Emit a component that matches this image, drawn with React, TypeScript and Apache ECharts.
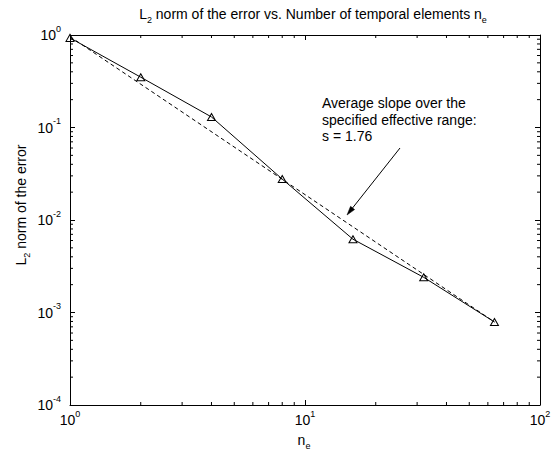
import React, { useEffect, useRef } from 'react';
import * as echarts from 'echarts';

// ---- data ----
const elements = [1, 2, 4, 8, 16, 32, 64];
const l2Error = [0.93, 0.35, 0.13, 0.0277, 0.0062, 0.0024, 0.00079];
const fitElements = [1, 64];
const fitError = [0.96, 0.00079];
const xMinorTicks = [2, 3, 4, 5, 6, 7, 8, 9, 20, 30, 40, 50, 60, 70, 80, 90];
const yMinorTicks = [
  0.0002, 0.0003, 0.0004, 0.0005, 0.0006, 0.0007, 0.0008, 0.0009,
  0.002, 0.003, 0.004, 0.005, 0.006, 0.007, 0.008, 0.009,
  0.02, 0.03, 0.04, 0.05, 0.06, 0.07, 0.08, 0.09,
  0.2, 0.3, 0.4, 0.5, 0.6, 0.7, 0.8, 0.9,
];
const titleText = '{b|L}{sub|2}{b| norm of the error vs. Number of temporal elements n}{sub|e}';
const xNameText = '{b|n}{sub|e}';
const yNameText = '{b|L}{sub|2}{b| norm of the error}';
const annotationLines = ['Average slope over the', 'specified effective range:', 's = 1.76'];

const FONT = '"Liberation Sans", Arial, Helvetica, sans-serif';

const gRich = {
  b: { fontSize: 14, lineHeight: 20, fontFamily: FONT, fill: '#000' },
  sub: { fontSize: 9, lineHeight: 9, verticalAlign: 'bottom', fontFamily: FONT, fill: '#000' },
};

const tickRich = {
  b: { fontSize: 14, lineHeight: 22, fontFamily: FONT, color: '#000' },
  sup: { fontSize: 9, lineHeight: 9, verticalAlign: 'top', fontFamily: FONT, color: '#000' },
};

const powLabel = (v: number) => `{b|10}{sup|${Math.round(Math.log10(v))}}`;

export default function App() {
  const ref = useRef<HTMLDivElement>(null);
  useEffect(() => {
    if (!ref.current) return;
    const chart = echarts.init(ref.current, undefined, { renderer: 'svg' });

    const minorData: number[][] = [
      ...xMinorTicks.map((v) => [v, 0.01, 0]),
      ...yMinorTicks.map((v) => [10, v, 1]),
    ];

    // arrow geometry
    const ax1 = 400, ay1 = 148, ax2 = 347, ay2 = 215;
    const dx = ax2 - ax1, dy = ay2 - ay1;
    const len = Math.sqrt(dx * dx + dy * dy);
    const ux = dx / len, uy = dy / len;
    const headLen = 9, headHalf = 2.6;
    const bx = ax2 - ux * headLen, by = ay2 - uy * headLen;
    const px = -uy, py = ux;

    const axisCommon = {
      type: 'log' as const,
      logBase: 10,
      axisLine: { show: true, lineStyle: { color: '#000', width: 1 } },
      axisTick: { show: true, inside: true, length: 5, lineStyle: { color: '#000', width: 1 } },
      splitLine: { show: false },
      minorTick: { show: false },
    };

    const ML = 3;
    chart.setOption({
      animation: false,
      backgroundColor: '#fff',
      grid: { left: 70, right: 15, top: 35, bottom: 48, containLabel: false },
      xAxis: [
        {
          ...axisCommon,
          min: 1,
          max: 100,
          position: 'bottom',
          axisLabel: {
            show: true,
            margin: 4,
            formatter: powLabel,
            rich: tickRich,
            showMinLabel: true,
            showMaxLabel: true,
          },
        },
        {
          ...axisCommon,
          min: 1,
          max: 100,
          position: 'top',
          axisLabel: { show: false },
        },
      ],
      yAxis: [
        {
          ...axisCommon,
          min: 0.0001,
          max: 1,
          position: 'left',
          axisLabel: {
            show: true,
            margin: 9,
            formatter: powLabel,
            rich: tickRich,
            showMinLabel: true,
            showMaxLabel: true,
          },
        },
        {
          ...axisCommon,
          min: 0.0001,
          max: 1,
          position: 'right',
          axisLabel: { show: false },
        },
      ],
      series: [
        {
          type: 'line',
          data: fitElements.map((x, i) => [x, fitError[i]]),
          showSymbol: false,
          lineStyle: { color: '#000', width: 1, type: [4, 3] },
          z: 2,
        },
        {
          type: 'line',
          data: elements.map((x, i) => [x, l2Error[i]]),
          symbol: 'triangle',
          symbolSize: [8, 7],
          lineStyle: { color: '#000', width: 1 },
          itemStyle: { color: 'rgba(255,255,255,0)', borderColor: '#000', borderWidth: 1 },
          z: 3,
        },
        {
          type: 'custom',
          data: minorData,
          clip: false,
          silent: true,
          renderItem: (params: any, api: any) => {
            const cs = params.coordSys;
            const kind = api.value(2);
            const p = api.coord([api.value(0), api.value(1)]);
            const st = { stroke: '#000', lineWidth: 1 };
            if (kind === 0) {
              const bottom = cs.y + cs.height;
              return {
                type: 'group',
                children: [
                  { type: 'line', shape: { x1: p[0], y1: bottom, x2: p[0], y2: bottom - ML }, style: st },
                  { type: 'line', shape: { x1: p[0], y1: cs.y, x2: p[0], y2: cs.y + ML }, style: st },
                ],
              };
            }
            const right = cs.x + cs.width;
            return {
              type: 'group',
              children: [
                { type: 'line', shape: { x1: cs.x, y1: p[1], x2: cs.x + ML, y2: p[1] }, style: st },
                { type: 'line', shape: { x1: right, y1: p[1], x2: right - ML, y2: p[1] }, style: st },
              ],
            };
          },
          z: 1,
        },
      ],
      graphic: [
        {
          type: 'text',
          x: 313,
          y: 14,
          style: { text: titleText, rich: gRich, fontSize: 14, fontFamily: FONT, fill: '#000', align: 'center', verticalAlign: 'middle' },
        },
        {
          type: 'text',
          x: 304,
          y: 440,
          style: { text: xNameText, rich: gRich, fontSize: 14, fontFamily: FONT, fill: '#000', align: 'center', verticalAlign: 'middle' },
        },
        {
          type: 'text',
          x: 21,
          y: 205,
          rotation: Math.PI / 2,
          style: { text: yNameText, rich: gRich, fontSize: 14, fontFamily: FONT, fill: '#000', align: 'center', verticalAlign: 'middle' },
        },
        {
          type: 'text',
          x: 322,
          y: 95,
          style: {
            text: annotationLines.join('\n'),
            fontSize: 14,
            lineHeight: 16.5,
            fontFamily: FONT,
            fill: '#000',
            align: 'left',
            verticalAlign: 'top',
          },
        },
        {
          type: 'line',
          shape: { x1: ax1, y1: ay1, x2: bx, y2: by },
          style: { stroke: '#000', lineWidth: 1 },
        },
        {
          type: 'polygon',
          shape: {
            points: [
              [ax2, ay2],
              [bx + px * headHalf, by + py * headHalf],
              [bx - px * headHalf, by - py * headHalf],
            ],
          },
          style: { fill: '#000', stroke: '#000', lineWidth: 0.5 },
        },
      ],
    });
    return () => chart.dispose();
  }, []);

  return (
    <div
      ref={ref}
      style={{ position: 'fixed', left: 0, top: 0, width: 555, height: 453, background: '#fff' }}
    />
  );
}
